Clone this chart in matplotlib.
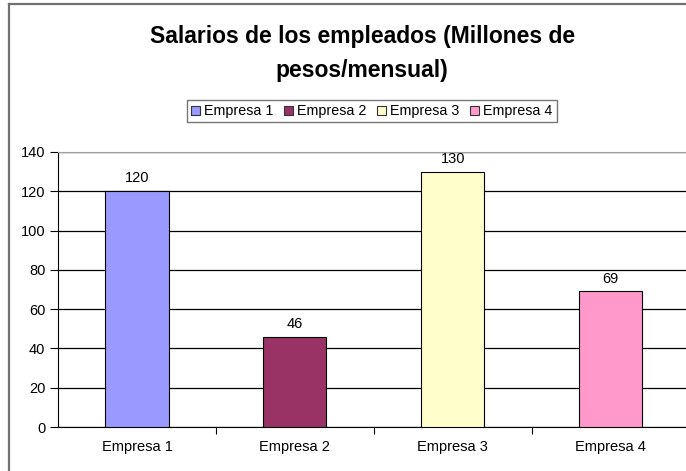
import matplotlib
matplotlib.use("Agg")
import matplotlib.pyplot as plt
from matplotlib.lines import Line2D
from matplotlib.patches import Patch

# data
empresas = ["Empresa 1", "Empresa 2", "Empresa 3", "Empresa 4"]
salarios = [120, 46, 130, 69]
colores = ["#9999FF", "#993366", "#FFFFCC", "#FF99CC"]
y_ticks = [0, 20, 40, 60, 80, 100, 120, 140]

plt.rcParams["font.family"] = ["Liberation Sans", "DejaVu Sans"]

fig = plt.figure(figsize=(6.86, 4.71), dpi=100)
ax = fig.add_axes([0.0845, 0.0934, 0.921, 0.584])

x = list(range(len(empresas)))
bars = ax.bar(x, salarios, width=0.4, color=colores, edgecolor="black", linewidth=0.8, zorder=3)
for xi, v in zip(x, salarios):
    ax.text(xi, v + 3, str(v), ha="center", va="bottom", fontsize=10.5)

ax.set_xlim(-0.5, 3.5)
ax.set_ylim(0, 140)
ax.set_yticks(y_ticks)
ax.yaxis.grid(True, color="black", linewidth=0.9, zorder=0)
ax.tick_params(axis="y", labelsize=10.5, length=6, width=0.8, direction="out", pad=3)

ax.set_xticks(x)
ax.set_xticklabels(empresas, fontsize=10.5)
ax.tick_params(axis="x", length=0, pad=9)
ax.set_xticks([0.5, 1.5, 2.5], minor=True)
ax.tick_params(axis="x", which="minor", length=5, width=0.8, direction="out")

ax.spines["left"].set_color("black")
ax.spines["bottom"].set_color("black")
ax.spines["top"].set_color("#a0a0a0")
ax.spines["right"].set_color("#c0c0c0")

fig.text(0.528, 0.887, "Salarios de los empleados (Millones de\npesos/mensual)",
         ha="center", va="center", fontsize=16.5, fontweight="bold", linespacing=1.6)

handles = [Patch(facecolor=c, edgecolor="#333333", linewidth=0.8) for c in colores]
leg = fig.legend(handles, empresas, loc="center", bbox_to_anchor=(0.542, 0.764), ncol=4,
                 fontsize=10.3, frameon=True, fancybox=False, handlelength=0.6, handleheight=0.6,
                 handletextpad=0.3, columnspacing=0.75, borderpad=0.3, borderaxespad=0)
leg.get_frame().set_edgecolor("#555555")
leg.get_frame().set_linewidth(1.0)

# outer chart border (only left and top are inside the image)
fig.add_artist(Line2D([9 / 686, 9 / 686], [0, 1 - 4 / 471], color="#707070", linewidth=1.6))
fig.add_artist(Line2D([9 / 686, 1], [1 - 4 / 471, 1 - 4 / 471], color="#707070", linewidth=1.6))

fig.savefig("out.png", dpi=100)
